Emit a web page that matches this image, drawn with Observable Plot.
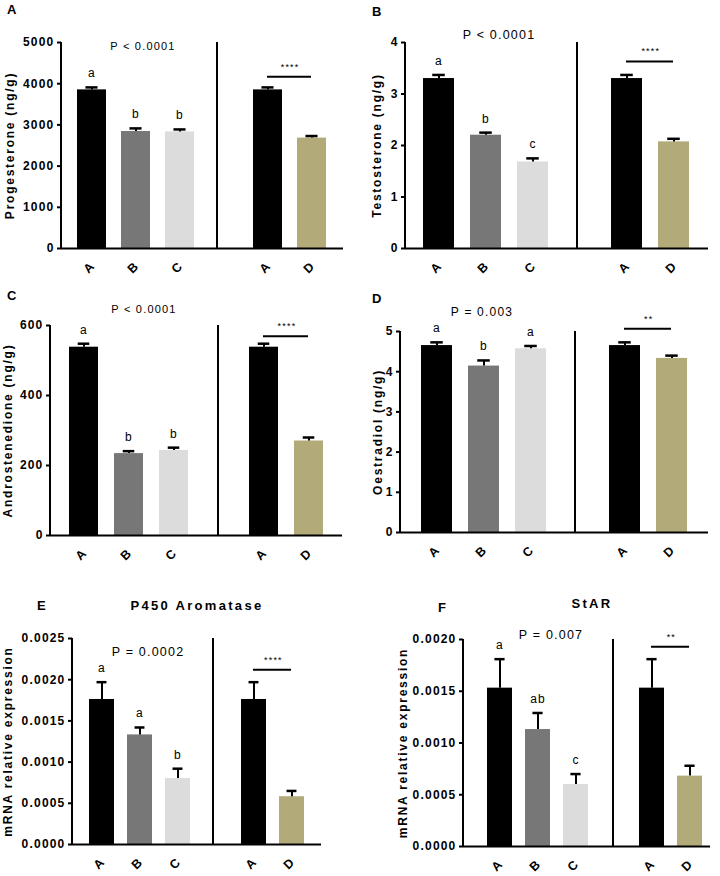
<!DOCTYPE html>
<html><head><meta charset="utf-8">
<script src="https://cdn.jsdelivr.net/npm/d3@7"></script>
<script src="https://cdn.jsdelivr.net/npm/@observablehq/plot@0.6"></script>
<style>
body{margin:0;background:#fff;}
#fig{position:relative;width:720px;height:876px;font-family:"Liberation Sans",Arial,sans-serif;background:#fff;}
.panel{position:absolute;}
.lbl{position:absolute;font-weight:bold;font-size:13px;line-height:13px;color:#000;}
.ttl{position:absolute;font-weight:bold;font-size:13px;line-height:13px;letter-spacing:2.3px;transform:translateX(-50%);white-space:nowrap;}
</style></head><body><div id="fig"></div>
<script>
// ---- data ----
const barKeys = ["A1", "B", "C", "A2", "D"];
const xDomain = ["A1", "B", "C", "gap", "A2", "D"];
const tickLabels = ["A", "B", "C", "A", "D"];
const barColors = ["#000000", "#777777", "#dcdcdc", "#000000", "#b3aa7a"];

const progesterone = [3850, 2840, 2830, 3850, 2680];
const progesteroneErr = [60, 75, 60, 60, 50];
const progesteroneLetters = ["a", "b", "b"];
const progesteroneTicks = [0, 1000, 2000, 3000, 4000, 5000];

const testosterone = [3.30, 2.20, 1.68, 3.30, 2.07];
const testosteroneErr = [0.07, 0.05, 0.07, 0.07, 0.06];
const testosteroneLetters = ["a", "b", "c"];
const testosteroneTicks = [0, 1, 2, 3, 4];

const androstenedione = [538, 234, 243, 538, 270];
const androstenedioneErr = [10, 7, 8, 10, 10];
const androstenedioneLetters = ["a", "b", "b"];
const androstenedioneTicks = [0, 200, 400, 600];

const oestradiol = [4.65, 4.14, 4.57, 4.65, 4.33];
const oestradiolErr = [0.08, 0.14, 0.07, 0.08, 0.07];
const oestradiolLetters = ["a", "b", "a"];
const oestradiolTicks = [0, 1, 2, 3, 4, 5];

const aromatase = [0.00176, 0.00133, 0.00080, 0.00176, 0.00058];
const aromataseErr = [0.00021, 0.00009, 0.00012, 0.00021, 0.00007];
const aromataseLetters = ["a", "a", "b"];
const aromataseTicks = [0, 0.0005, 0.0010, 0.0015, 0.0020, 0.0025];

const stAR = [0.00153, 0.00113, 0.00060, 0.00153, 0.00068];
const stARErr = [0.00028, 0.00016, 0.00010, 0.00028, 0.00010];
const stARLetters = ["a", "ab", "c"];
const stARTicks = [0, 0.0005, 0.0010, 0.0015, 0.0020];

const pTexts = ["P < 0.0001", "P < 0.0001", "P < 0.0001", "P = 0.003", "P = 0.0002", "P = 0.007"];
const starTexts = ["****", "****", "****", "**", "****", "**"];
const bracketLevels = [4170, 3.63, 569, 5.07, 0.00212, 0.00193];
const yLabels = ["Progesterone (ng/g)", "Testosterone (ng/g)", "Androstenedione (ng/g)", "Oestradiol (ng/g)", "mRNA relative expression", "mRNA relative expression"];
const panelLetters = ["A", "B", "C", "D", "E", "F"];
const panelTitles = ["P450 Aromatase", "StAR"];

// ---- layout ----
const fig = document.getElementById("fig");
const fInt = d3.format("d"), f4 = d3.format(".4f");

const panels = [
  {values: progesterone, errs: progesteroneErr, letters: progesteroneLetters, ticks: progesteroneTicks, fmt: fInt,
   left: 0, top: 0, width: 360, height: 290, margin: [42, 17, 42, 61], pi: 0.34, po: 0.36, align: 0.5,
   divDx: -7, yLabelDx: -51, pDx: 7, pDy: 0, pSize: 11},
  {values: testosterone, errs: testosteroneErr, letters: testosteroneLetters, ticks: testosteroneTicks, fmt: fInt,
   left: 360, top: 0, width: 360, height: 290, margin: [42, 12, 42, 45], pi: 0.33, po: 0.35, align: 0.5,
   divDx: -3, yLabelDx: -28, pDx: 13, pDy: -12, pSize: 12.5},
  {values: androstenedione, errs: androstenedioneErr, letters: androstenedioneLetters, ticks: androstenedioneTicks, fmt: fInt,
   left: 0, top: 290, width: 360, height: 290, margin: [35, 18, 45, 50], pi: 0.345, po: 0.35, align: 0.5,
   divDx: -1, yLabelDx: -42, pDx: 15, pDy: -20, pSize: 11},
  {values: oestradiol, errs: oestradiolErr, letters: oestradiolLetters, ticks: oestradiolTicks, fmt: fInt,
   left: 360, top: 290, width: 360, height: 290, margin: [41, 12, 48, 40], pi: 0.33, po: 0.4, align: 0.5,
   divDx: -3, yLabelDx: -22.5, pDx: -2, pDy: -24, pSize: 12},
  {values: aromatase, errs: aromataseErr, letters: aromataseLetters, ticks: aromataseTicks, fmt: f4,
   left: 0, top: 585, width: 360, height: 291, margin: [53, 39, 32, 72], pi: 0.33, po: 0.37, align: 0.5,
   divDx: -3, yLabelDx: -64, pDx: 8, pDy: 9, pSize: 12.5},
  {values: stAR, errs: stARErr, letters: stARLetters, ticks: stARTicks, fmt: f4,
   left: 360, top: 585, width: 360, height: 291, margin: [54, 10, 30, 103], pi: 0.34, po: 0.36, align: 0.74,
   divDx: -1, yLabelDx: -60, pDx: 13, pDy: -9, pSize: 12.5}
];

panels.forEach((cfg, pi) => {
  const rows = barKeys.map((k, i) => ({key: k, label: tickLabels[i], value: cfg.values[i], err: cfg.errs[i],
    color: barColors[i], letter: i < 3 ? cfg.letters[i] : ""}));
  const [mt, mr, mb, ml] = cfg.margin;
  const innerW = cfg.width - ml - mr;
  const step = innerW / (xDomain.length - cfg.pi + 2 * cfg.po);
  const bw = step * (1 - cfg.pi);
  const capInset = bw * 0.29;
  const yMax = cfg.ticks[cfg.ticks.length - 1];
  const bracketY = bracketLevels[pi];

  const yAxisLine = (index, scales, values, dimensions) => {
    const ln = document.createElementNS("http://www.w3.org/2000/svg", "line");
    const x = dimensions.marginLeft;
    ln.setAttribute("x1", x); ln.setAttribute("x2", x);
    ln.setAttribute("y1", scales.y(0) + 1); ln.setAttribute("y2", scales.y(yMax));
    ln.setAttribute("stroke", "black"); ln.setAttribute("stroke-width", 2);
    return ln;
  };

  const svg = Plot.plot({
    width: cfg.width, height: cfg.height,
    marginTop: mt, marginRight: mr, marginBottom: mb, marginLeft: ml,
    style: {fontFamily: "Liberation Sans, Arial, sans-serif", fontSize: "12px", letterSpacing: "1.2px", background: "white", overflow: "visible"},
    x: {domain: xDomain, paddingInner: cfg.pi, paddingOuter: cfg.po, align: cfg.align, axis: null},
    y: {domain: [0, yMax]},
    color: {type: "identity"},
    marks: [
      Plot.barY(rows, {x: "key", y: "value", fill: "color"}),
      Plot.ruleX(rows, {x: "key", y1: "value", y2: d => d.value + d.err, stroke: "black", strokeWidth: 2}),
      Plot.tickY(rows, {x: "key", y: d => d.value + d.err, stroke: "black", strokeWidth: 2.5, insetLeft: capInset, insetRight: capInset}),
      Plot.ruleY([0], {strokeWidth: 2}),
      yAxisLine,
      Plot.ruleX(["gap"], {x: d => d, y1: 0, y2: yMax, strokeWidth: 2, dx: cfg.divDx}),
      Plot.axisY(cfg.ticks, {tickSize: 4, tickPadding: 3, tickFormat: cfg.fmt, fontWeight: "bold", fontSize: 12, strokeWidth: 2, label: null}),
      Plot.text(rows, {x: "key", text: "label", frameAnchor: "bottom", dy: 22, rotate: -45, fontWeight: "bold", fontSize: 12.5}),
      Plot.text(rows.slice(0, 3), {x: "key", y: d => d.value + d.err, text: "letter", dy: -10, lineAnchor: "bottom", fontSize: 12}),
      Plot.text([pTexts[pi]], {x: () => "B", frameAnchor: "top", text: d => d, dx: cfg.pDx, dy: cfg.pDy, fontSize: cfg.pSize}),
      Plot.link([bracketY], {x1: () => "A2", x2: () => "D", y1: d => d, y2: d => d, stroke: "black", strokeWidth: 2, dx: -1}),
      Plot.text([starTexts[pi]], {x: () => "A2", y: () => bracketY, text: d => d, dx: step / 2, dy: -10, fontSize: 9}),
      Plot.text([yLabels[pi]], {frameAnchor: "left", textAnchor: "middle", text: d => d, rotate: -90, dx: cfg.yLabelDx, fontWeight: "bold", fontSize: 12})
    ]
  });
  d3.select(svg).selectAll("text")
    .filter(function () { return this.textContent === yLabels[pi]; })
    .style("letter-spacing", "1.75px");
  const wrap = document.createElement("div");
  wrap.className = "panel";
  wrap.style.left = cfg.left + "px";
  wrap.style.top = cfg.top + "px";
  wrap.appendChild(svg);
  fig.appendChild(wrap);
});

// panel letters and titles
const letterPos = [[7, 2.5], [372, 4.5], [7, 288.5], [372, 291.5], [37, 598.5], [438, 600.5]];
panelLetters.forEach((t, i) => {
  const d = document.createElement("div");
  d.className = "lbl";
  d.textContent = t;
  d.style.left = letterPos[i][0] + "px";
  d.style.top = letterPos[i][1] + "px";
  fig.appendChild(d);
});
const titlePos = [[197, 598.5], [592, 596.5]];
panelTitles.forEach((t, i) => {
  const d = document.createElement("div");
  d.className = "ttl";
  d.textContent = t;
  d.style.left = titlePos[i][0] + "px";
  d.style.top = titlePos[i][1] + "px";
  fig.appendChild(d);
});
</script></body></html>
